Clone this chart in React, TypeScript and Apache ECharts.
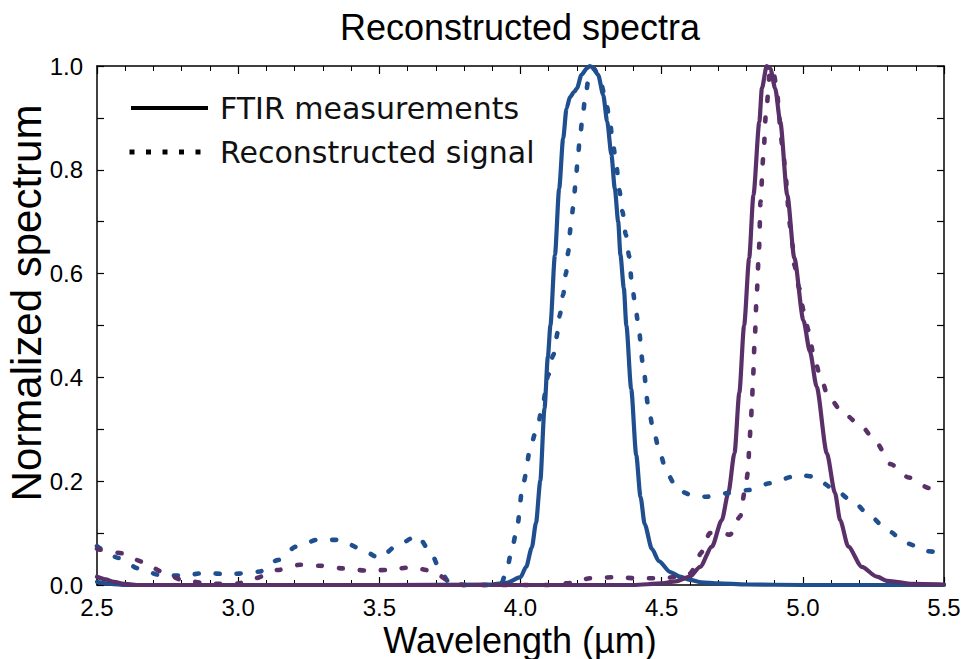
import React, { useEffect, useRef } from 'react';
import * as echarts from 'echarts';

// Wavelength axis (µm) and normalized values
const ftirBlueX = [2.5, 2.55, 2.6, 3.0, 3.5, 3.9, 3.95, 4.0, 4.02, 4.04, 4.055, 4.07, 4.085, 4.097, 4.106, 4.122, 4.137, 4.151, 4.163, 4.175, 4.19, 4.2, 4.216, 4.236, 4.245, 4.255, 4.275, 4.293, 4.307, 4.322, 4.334, 4.346, 4.354, 4.366, 4.375, 4.392, 4.41, 4.425, 4.44, 4.465, 4.49, 4.53, 4.565, 4.6, 4.64, 4.7, 4.8, 5.0, 5.5];
const ftirBlueY = [0.006, 0.002, 0, 0, 0, 0.001, 0.004, 0.015, 0.035, 0.072, 0.12, 0.2, 0.34, 0.44, 0.5, 0.636, 0.764, 0.86, 0.918, 0.94, 0.95, 0.957, 0.983, 0.996, 1.0, 0.998, 0.983, 0.944, 0.893, 0.829, 0.764, 0.7, 0.636, 0.572, 0.5, 0.378, 0.25, 0.17, 0.117, 0.07, 0.046, 0.025, 0.016, 0.01, 0.005, 0.003, 0.001, 0, 0];

const reconBlueX = [2.5, 2.51, 2.576, 2.647, 2.724, 2.8, 2.882, 2.965, 3.04, 3.076, 3.14, 3.206, 3.28, 3.36, 3.43, 3.5, 3.565, 3.635, 3.68, 3.72, 3.75, 3.8, 3.93, 3.95, 3.968, 3.986, 4.009, 4.039, 4.063, 4.08, 4.098, 4.116, 4.133, 4.139, 4.151, 4.161, 4.169, 4.177, 4.187, 4.195, 4.202, 4.21, 4.22, 4.23, 4.245, 4.26, 4.28, 4.3, 4.315, 4.328, 4.34, 4.35, 4.361, 4.373, 4.385, 4.393, 4.405, 4.416, 4.434, 4.452, 4.47, 4.494, 4.517, 4.545, 4.57, 4.61, 4.654, 4.7, 4.73, 4.807, 4.884, 4.967, 5.0, 5.037, 5.108, 5.179, 5.24, 5.3, 5.37, 5.44, 5.5];
const reconBlueY = [0.075, 0.071, 0.052, 0.032, 0.019, 0.018, 0.023, 0.021, 0.023, 0.026, 0.048, 0.074, 0.087, 0.087, 0.071, 0.052, 0.077, 0.095, 0.065, 0.023, 0.003, 0, 0, 0.025, 0.065, 0.104, 0.195, 0.274, 0.313, 0.352, 0.404, 0.443, 0.489, 0.52, 0.559, 0.6, 0.642, 0.687, 0.729, 0.774, 0.815, 0.86, 0.902, 0.944, 0.989, 0.995, 0.977, 0.94, 0.9, 0.848, 0.806, 0.761, 0.72, 0.675, 0.633, 0.588, 0.545, 0.507, 0.425, 0.346, 0.3, 0.254, 0.218, 0.195, 0.18, 0.172, 0.17, 0.172, 0.177, 0.183, 0.196, 0.209, 0.211, 0.209, 0.186, 0.16, 0.132, 0.105, 0.08, 0.065, 0.062];

const ftirPurpleX = [2.5, 2.53, 2.56, 2.6, 2.65, 3.0, 4.0, 4.4, 4.5, 4.55, 4.6, 4.636, 4.678, 4.713, 4.736, 4.758, 4.775, 4.792, 4.81, 4.825, 4.846, 4.855, 4.872, 4.885, 4.902, 4.92, 4.945, 4.97, 5.002, 5.025, 5.049, 5.085, 5.114, 5.132, 5.161, 5.209, 5.262, 5.3, 5.39, 5.5];
const ftirPurpleY = [0.016, 0.011, 0.006, 0.002, 0, 0, 0, 0, 0.003, 0.007, 0.016, 0.035, 0.074, 0.125, 0.177, 0.254, 0.37, 0.5, 0.63, 0.751, 0.893, 0.957, 1.0, 0.995, 0.957, 0.893, 0.751, 0.63, 0.51, 0.45, 0.382, 0.254, 0.177, 0.125, 0.074, 0.035, 0.016, 0.008, 0.002, 0.001];

const reconPurpleX = [2.5, 2.51, 2.59, 2.66, 2.73, 2.8, 2.9, 3.0, 3.06, 3.14, 3.22, 3.29, 3.37, 3.45, 3.53, 3.61, 3.68, 3.71, 3.75, 3.8, 4.1, 4.18, 4.247, 4.33, 4.41, 4.495, 4.56, 4.6, 4.62, 4.638, 4.671, 4.705, 4.742, 4.778, 4.795, 4.806, 4.81, 4.815, 4.82, 4.823, 4.83, 4.837, 4.845, 4.85, 4.86, 4.87, 4.885, 4.895, 4.907, 4.915, 4.92, 4.931, 4.94, 4.945, 4.952, 4.963, 4.97, 4.987, 5.002, 5.02, 5.037, 5.061, 5.09, 5.143, 5.209, 5.262, 5.31, 5.376, 5.447, 5.5];
const reconPurpleY = [0.07, 0.068, 0.061, 0.045, 0.026, 0.01, 0.002, 0.003, 0.013, 0.029, 0.039, 0.037, 0.032, 0.028, 0.029, 0.034, 0.028, 0.019, 0.006, 0, 0, 0.004, 0.013, 0.015, 0.013, 0.013, 0.016, 0.022, 0.035, 0.061, 0.1, 0.1, 0.097, 0.132, 0.183, 0.218, 0.263, 0.305, 0.35, 0.392, 0.478, 0.565, 0.65, 0.738, 0.825, 0.915, 0.995, 0.99, 0.96, 0.918, 0.873, 0.83, 0.786, 0.744, 0.7, 0.657, 0.616, 0.572, 0.53, 0.491, 0.446, 0.404, 0.363, 0.331, 0.305, 0.273, 0.233, 0.207, 0.187, 0.18];

const legendLabels = ['FTIR measurements', 'Reconstructed signal'];
const titleText = 'Reconstructed spectra';
const xAxisTitle = 'Wavelength (µm)';
const yAxisTitle = 'Normalized spectrum';

const BLUE = '#1f4f8f';
const PURPLE = '#5a3068';
const SANS = '"Liberation Sans", Arial, sans-serif';
const LEGEND_FONT = '"DejaVu Sans", sans-serif';

const pairs = (xs: number[], ys: number[]) => xs.map((x, i) => [x, ys[i]]);

export default function App() {
  const ref = useRef<HTMLDivElement>(null);
  useEffect(() => {
    if (!ref.current) return;
    const chart = echarts.init(ref.current, null, { renderer: 'svg' });
    const axisLine = { show: true, onZero: false, lineStyle: { color: '#000', width: 1.5 } };
    const xCommon = {
      type: 'value', min: 2.5, max: 5.5, interval: 0.5,
      axisLine,
      axisTick: { show: true, inside: true, length: 8, lineStyle: { color: '#000', width: 1.2 } },
      minorTick: { show: true, splitNumber: 5, length: 5, lineStyle: { color: '#000', width: 1 } },
      splitLine: { show: false },
      minorSplitLine: { show: false },
    };
    const yCommon = {
      type: 'value', min: 0, max: 1, interval: 0.2,
      axisLine,
      axisTick: { show: true, inside: true, length: 7, lineStyle: { color: '#000', width: 1.2 } },
      minorTick: { show: true, splitNumber: 2, length: 7, lineStyle: { color: '#000', width: 1.2 } },
      splitLine: { show: false },
      minorSplitLine: { show: false },
    };
    const solid = (name: string, xs: number[], ys: number[], color: string) => ({
      type: 'line', name, data: pairs(xs, ys), showSymbol: false, symbol: 'none',
      smooth: 0.25, smoothMonotone: 'x', clip: false,
      lineStyle: { color, width: 4.2, cap: 'round', join: 'round' },
    });
    const dotted = (name: string, xs: number[], ys: number[], color: string) => ({
      type: 'line', name, data: pairs(xs, ys), showSymbol: false, symbol: 'none',
      smooth: 0.25, smoothMonotone: 'x', clip: false,
      lineStyle: { color, width: 4.6, type: [4, 17], cap: 'round', join: 'round' },
    });
    chart.setOption({
      animation: false,
      backgroundColor: '#fff',
      grid: { left: 97, right: 23, top: 66, bottom: 74, containLabel: false },
      xAxis: [
        {
          ...xCommon, position: 'bottom',
          axisLabel: { show: true, fontSize: 24, color: '#000', fontFamily: SANS, margin: 10, formatter: (v: number) => v.toFixed(1) },
        },
        { ...xCommon, position: 'top', axisLabel: { show: false } },
      ],
      yAxis: [
        {
          ...yCommon, position: 'left',
          axisLabel: { show: true, fontSize: 24, color: '#000', fontFamily: SANS, margin: 14, formatter: (v: number) => v.toFixed(1) },
        },
        { ...yCommon, position: 'right', axisLabel: { show: false } },
      ],
      series: [
        solid('FTIR measurements (band 1)', ftirBlueX, ftirBlueY, BLUE),
        solid('FTIR measurements (band 2)', ftirPurpleX, ftirPurpleY, PURPLE),
        dotted('Reconstructed signal (band 1)', reconBlueX, reconBlueY, BLUE),
        dotted('Reconstructed signal (band 2)', reconPurpleX, reconPurpleY, PURPLE),
      ],
      graphic: [
        { type: 'text', x: 520, y: 27, style: { text: titleText, font: `36px ${SANS}`, fill: '#000', textAlign: 'center', textVerticalAlign: 'middle' } },
        { type: 'text', x: 520, y: 640, style: { text: xAxisTitle, font: `36px ${SANS}`, fill: '#000', textAlign: 'center', textVerticalAlign: 'middle' } },
        { type: 'text', x: 26, y: 303, rotation: Math.PI / 2, style: { text: yAxisTitle, font: `42px ${SANS}`, fill: '#000', textAlign: 'center', textVerticalAlign: 'middle' } },
        { type: 'line', shape: { x1: 131, y1: 108, x2: 208, y2: 108 }, style: { stroke: '#000', lineWidth: 4 } },
        { type: 'line', shape: { x1: 129.5, y1: 152, x2: 202, y2: 152 }, style: { stroke: '#000', lineWidth: 5, lineDash: [5, 11.5] } },
        { type: 'text', x: 220, y: 108, style: { text: legendLabels[0], font: `30px ${LEGEND_FONT}`, fill: '#111', textAlign: 'left', textVerticalAlign: 'middle' } },
        { type: 'text', x: 220, y: 152, style: { text: legendLabels[1], font: `30px ${LEGEND_FONT}`, fill: '#111', textAlign: 'left', textVerticalAlign: 'middle' } },
      ],
    });
    return () => chart.dispose();
  }, []);
  return <div ref={ref} style={{ position: 'fixed', left: 0, top: 0, width: 967, height: 659, background: '#fff' }} />;
}
